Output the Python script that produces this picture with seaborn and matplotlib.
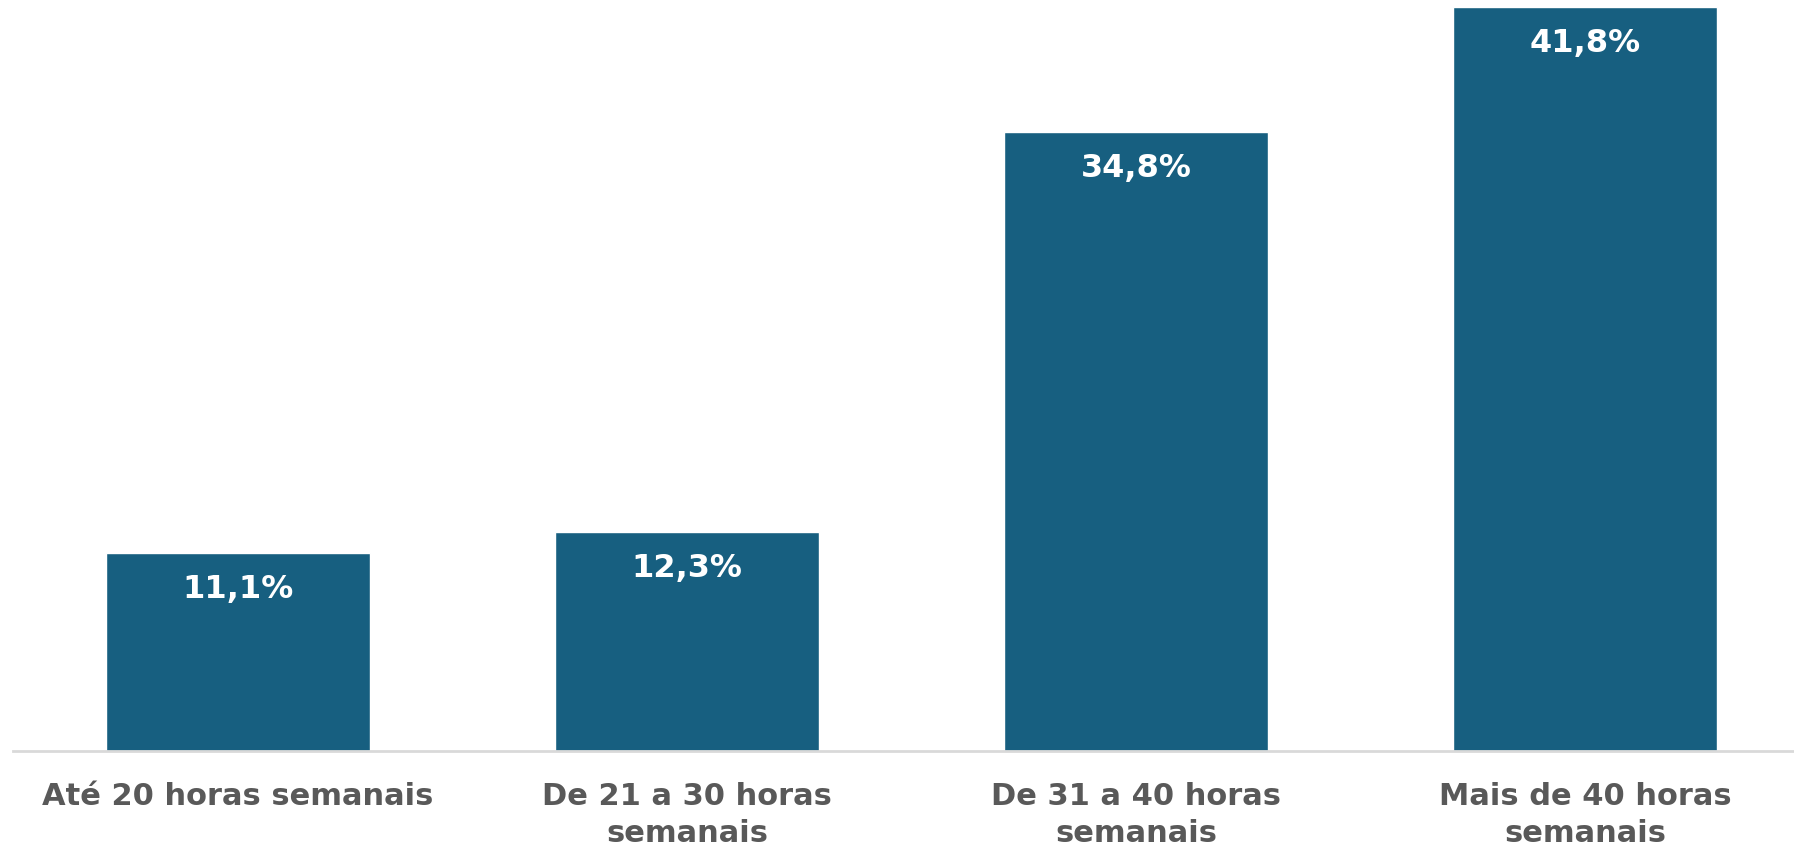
import matplotlib
matplotlib.use("Agg")
import matplotlib.pyplot as plt
import seaborn as sns
import pandas as pd

categories = ["Até 20 horas semanais", "De 21 a 30 horas\nsemanais",
              "De 31 a 40 horas\nsemanais", "Mais de 40 horas\nsemanais"]
values = [11.1, 12.3, 34.8, 41.8]
value_labels = ["11,1%", "12,3%", "34,8%", "41,8%"]

sns.set_style("white")
plt.rcParams['font.family'] = ['DejaVu Sans']

df = pd.DataFrame({"cat": categories, "val": values})

fig = plt.figure(figsize=(17.94, 8.51), dpi=100)
ax = fig.add_axes([13 / 1794, 1 - 751 / 851, 1 - 13 / 1794, 751 / 851])
sns.barplot(data=df, x="cat", y="val", color="#175f80", saturation=1,
            width=0.588, ax=ax)
ax.set_xlim(-0.501, 3.465)
ax.set_ylim(0, 42.19)

for i, (v, lab) in enumerate(zip(values, value_labels)):
    ax.annotate(lab, xy=(i, v), xytext=(0, -21), textcoords="offset pixels",
                ha="center", va="top", color="white", fontsize=23,
                fontweight="bold")

for s in ["top", "right", "left"]:
    ax.spines[s].set_visible(False)
ax.spines["bottom"].set_color("#d9d9d9")
ax.spines["bottom"].set_linewidth(2)
ax.set_yticks([])
ax.set_xlabel("")
ax.set_ylabel("")
ax.tick_params(axis="x", length=0, pad=22)
for t in ax.get_xticklabels():
    t.set_fontsize(22)
    t.set_fontweight("bold")
    t.set_color("#595959")
    t.set_linespacing(1.35)
    t.set_verticalalignment("top")

fig.savefig("out.png", dpi=100, facecolor="white")
